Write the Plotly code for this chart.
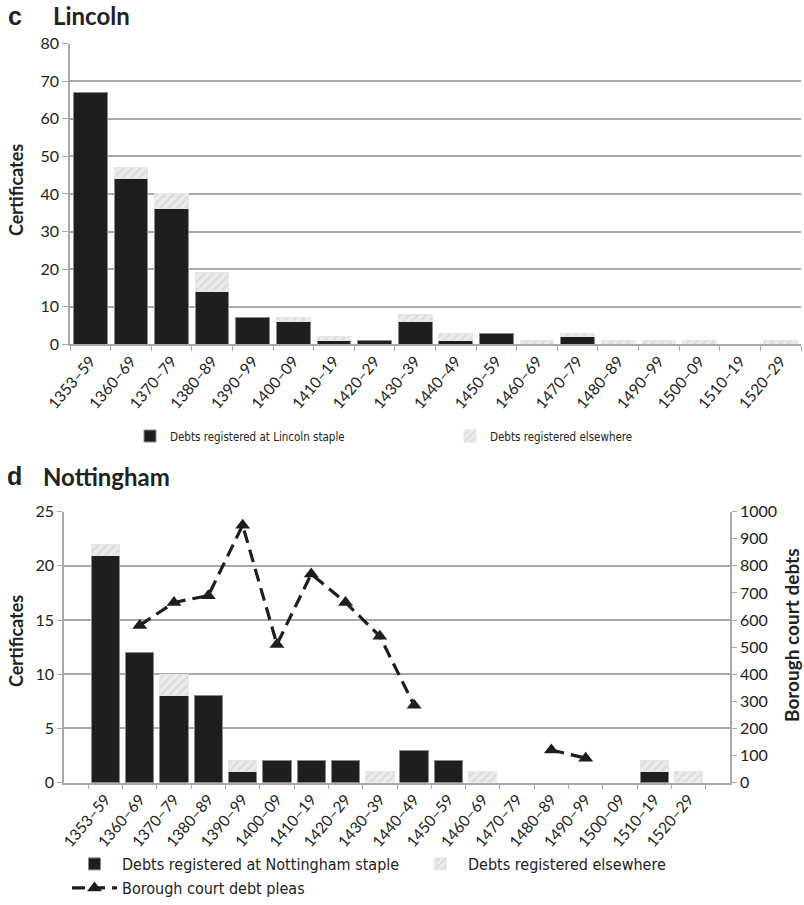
import plotly.graph_objects as go

# Decade bins shared by both panels
periods = ["1353–59", "1360–69", "1370–79", "1380–89", "1390–99", "1400–09",
           "1410–19", "1420–29", "1430–39", "1440–49", "1450–59", "1460–69",
           "1470–79", "1480–89", "1490–99", "1500–09", "1510–19", "1520–29"]

# Panel c: Lincoln certificates
lincoln_staple = [67, 44, 36, 14, 7, 6, 1, 1, 6, 1, 3, 0, 2, 0, 0, 0, 0, 0]
lincoln_elsewhere = [0, 3, 4, 5, 0, 1, 1, 0, 2, 2, 0, 1, 1, 1, 1, 1, 0, 1]

# Panel d: Nottingham certificates and borough court pleas
nottingham_staple = [21, 12, 8, 8, 1, 2, 2, 2, 0, 3, 2, 0, 0, 0, 0, 0, 1, 0]
nottingham_elsewhere = [1, 0, 2, 0, 1, 0, 0, 0, 1, 0, 0, 1, 0, 0, 0, 0, 1, 1]
borough_pleas = [None, 580, 665, 690, 950, 510, 770, 665, 540, 285,
                 None, None, None, 120, 90, None, None, None]

W, H = 804, 905
FONT = "Lato, 'Open Sans', sans-serif"
NARROW = "'Liberation Sans Narrow', 'DejaVu Sans Condensed', Lato, sans-serif"
BLACK = "#1e1e1e"
GRID = "#a9a9a9"


def px_x(v):
    return v / W


def px_y(v):
    return 1 - v / H


def nonzero(values):
    # empty bins draw nothing rather than a flat outlined bar
    return [v if v else None for v in values]


hatch = dict(shape="/", fgcolor="#c8c8c8", bgcolor="#ececec", size=6, solidity=0.35)
black_marker = dict(color=BLACK, line=dict(color="#8a8a8a", width=1))
hatch_marker = dict(color="#ececec", pattern=hatch, line=dict(color="#e6e6e6", width=1))

fig = go.Figure()

fig.add_trace(go.Bar(x=periods, y=nonzero(lincoln_staple), name="Debts registered at Lincoln staple",
                     marker=black_marker, xaxis="x", yaxis="y", legend="legend", showlegend=True))
fig.add_trace(go.Bar(x=periods, y=nonzero(lincoln_elsewhere), name="Debts registered elsewhere",
                     marker=hatch_marker, xaxis="x", yaxis="y", legend="legend2", showlegend=True))

fig.add_trace(go.Bar(x=periods, y=nonzero(nottingham_staple), name="Debts registered at Nottingham staple",
                     marker=black_marker, xaxis="x2", yaxis="y2", legend="legend3", showlegend=True))
fig.add_trace(go.Bar(x=periods, y=nonzero(nottingham_elsewhere), name="Debts registered elsewhere",
                     marker=hatch_marker, xaxis="x2", yaxis="y2", legend="legend4", showlegend=True))
fig.add_trace(go.Scatter(x=periods, y=borough_pleas, name="Borough court debt pleas",
                         mode="lines+markers", connectgaps=False,
                         line=dict(color=BLACK, width=3.2, dash="13px,7px"),
                         marker=dict(symbol="triangle-up", size=13, color=BLACK),
                         xaxis="x2", yaxis="y3", legend="legend5", showlegend=True))

tickfont = dict(family=FONT, size=16, color="#222")
xtickfont = dict(family=FONT, size=15.5, color="#222")

xcommon = dict(type="category", tickangle=-50, tickfont=xtickfont, showgrid=False,
               showline=True, linecolor=GRID, linewidth=1.5, ticks="outside",
               tickson="boundaries", ticklen=5, tickcolor=GRID, automargin=False,
               fixedrange=True)


def legend_at(text_x, y, size, itemwidth):
    return dict(orientation="h", x=px_x(text_x - itemwidth - 10), y=px_y(y),
                xanchor="left", yanchor="middle", itemwidth=itemwidth,
                font=dict(family=NARROW, size=size, color="#222"),
                bgcolor="rgba(0,0,0,0)", visible=True)


fig.update_layout(
    width=W, height=H,
    margin=dict(l=0, r=0, t=0, b=0),
    paper_bgcolor="white", plot_bgcolor="white",
    showlegend=True,
    barmode="stack", bargap=0.17,
    font=dict(family=FONT, color="#222"),
    xaxis=dict(domain=[px_x(70), px_x(801)], anchor="y", **xcommon),
    yaxis=dict(domain=[px_y(344.3), px_y(43.5)], anchor="x", range=[0, 80], dtick=10,
               tickfont=tickfont, showgrid=True, gridcolor=GRID, gridwidth=1.5,
               showline=True, linecolor=GRID, linewidth=1.5, ticks="outside",
               ticklen=6, tickcolor=GRID, zeroline=False, automargin=False),
    xaxis2=dict(domain=[px_x(64), px_x(730)], anchor="y2", **xcommon),
    yaxis2=dict(domain=[px_y(782.5), px_y(511.7)], anchor="x2", range=[0, 25], dtick=5,
                tickfont=tickfont, showgrid=True, gridcolor=GRID, gridwidth=1.5,
                showline=True, linecolor=GRID, linewidth=1.5, ticks="outside",
                ticklen=5, tickcolor=GRID, zeroline=False, automargin=False),
    yaxis3=dict(overlaying="y2", side="right", anchor="x2", range=[0, 1000], dtick=100,
                tickfont=tickfont, showgrid=False, showline=True, linecolor=GRID,
                linewidth=1.5, ticks="outside", ticklen=5, tickcolor=GRID,
                zeroline=False, automargin=False),
    legend=legend_at(170, 436, 11.5, 30),
    legend2=legend_at(490, 436, 11.5, 30),
    legend3=legend_at(122, 864, 16, 45),
    legend4=legend_at(468, 864, 16, 45),
    legend5=legend_at(122, 888, 16, 45),
)

annotations = [
    dict(text="<b>c</b>", x=px_x(6), y=px_y(16), font=dict(family="Liberation Sans, Arial", size=25)),
    dict(text="<b>Lincoln</b>", x=px_x(51), y=px_y(16), font=dict(family=FONT, size=24)),
    dict(text="<b>d</b>", x=px_x(5), y=px_y(476), font=dict(family="Liberation Sans, Arial", size=25)),
    dict(text="<b>Nottingham</b>", x=px_x(41), y=px_y(476), font=dict(family=FONT, size=24)),
    dict(text="<b>Certificates</b>", x=px_x(16), y=px_y(190), textangle=-90,
         xanchor="center", font=dict(family=FONT, size=18)),
    dict(text="<b>Certificates</b>", x=px_x(16), y=px_y(641), textangle=-90,
         xanchor="center", font=dict(family=FONT, size=18)),
    dict(text="<b>Borough court debts</b>", x=px_x(791), y=px_y(635), textangle=-90,
         xanchor="center", font=dict(family=FONT, size=19)),
]
for a in annotations:
    a.setdefault("xanchor", "left")
    a.update(xref="paper", yref="paper", yanchor="middle", showarrow=False)
fig.update_layout(annotations=annotations)

fig.write_html("out.html")
